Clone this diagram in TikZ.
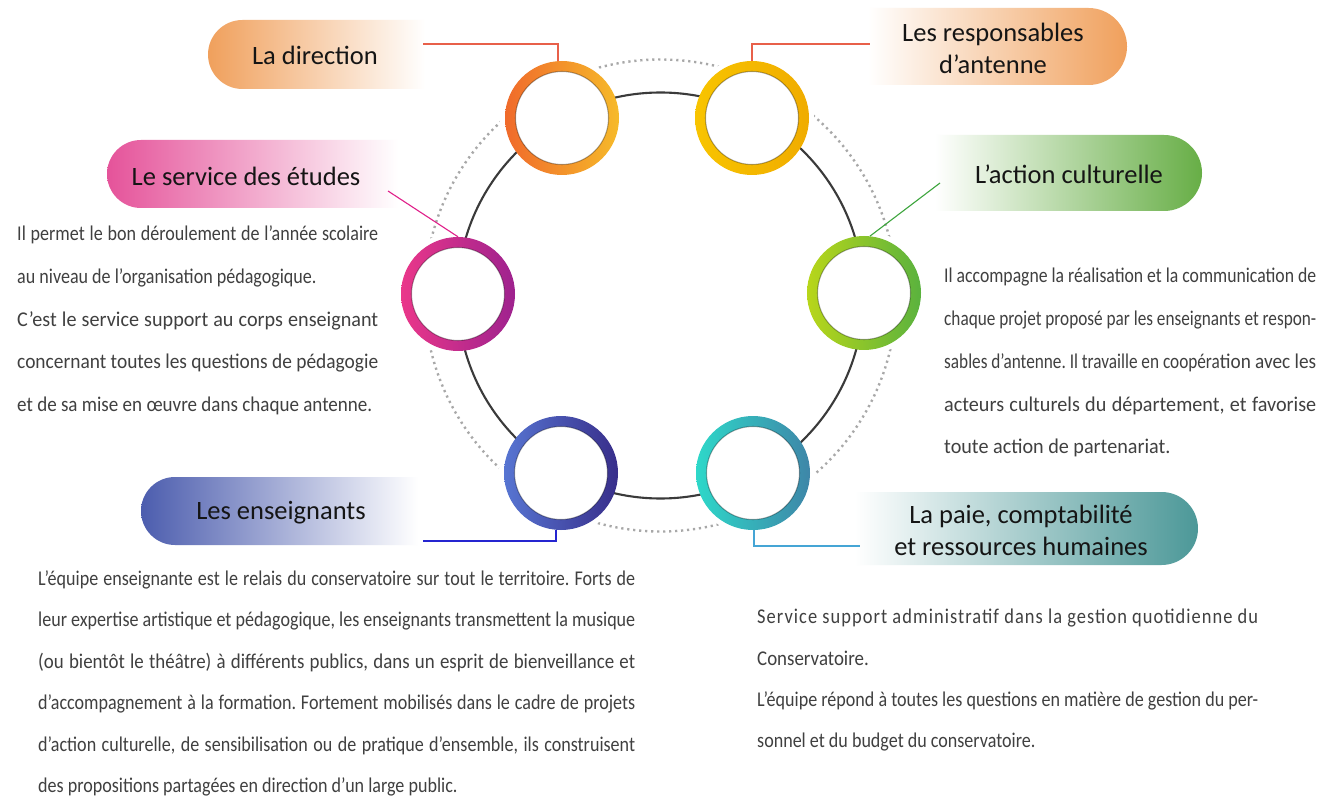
\documentclass[tikz,border=0pt]{standalone}
\usepackage{fontspec}
\usepackage{graphicx}
\setmainfont{Carlito}
\newfontfamily\headf{Carlito}
\newfontfamily\narrowf[FakeStretch=0.86]{Carlito}
\newfontfamily\midf[FakeStretch=0.9]{Carlito}
\newfontfamily\widef[FakeStretch=0.96]{Carlito}
\newfontfamily\spacedf[FakeStretch=0.88,LetterSpace=5]{Carlito}
\definecolor{headtxt}{HTML}{151515}
\definecolor{bodytxt}{HTML}{404040}
\definecolor{ringline}{HTML}{3A3A3A}
\definecolor{dotgray}{HTML}{A8A8A8}
\definecolor{pOrange}{HTML}{F0A05C}
\definecolor{pPink}{HTML}{E5539A}
\definecolor{pBlue}{HTML}{4C5DAE}
\definecolor{pGreen}{HTML}{67AE46}
\definecolor{pTeal}{HTML}{4C9898}
\definecolor{rOrA}{HTML}{F06A2B}
\definecolor{rOrB}{HTML}{F6BA2A}
\definecolor{rYeA}{HTML}{F8C400}
\definecolor{rYeB}{HTML}{F0AC00}
\definecolor{rPiA}{HTML}{EA378A}
\definecolor{rPiB}{HTML}{9E228E}
\definecolor{rGrA}{HTML}{B8D61A}
\definecolor{rGrB}{HTML}{5AB23E}
\definecolor{rBlA}{HTML}{5775D2}
\definecolor{rBlB}{HTML}{382E8A}
\definecolor{rTeA}{HTML}{2ED8C9}
\definecolor{rTeB}{HTML}{3E86A8}
\definecolor{cRed}{HTML}{E8604A}
\definecolor{cMag}{HTML}{E0208A}
\definecolor{cGreen}{HTML}{3DA53D}
\definecolor{cBlue}{HTML}{2525D0}
\definecolor{cCyan}{HTML}{45A5D5}
\newsavebox{\jlbox}
% justified line: stretch spaces if short, squeeze horizontally if too long
\newcommand{\jl}[2]{\sbox{\jlbox}{#2}\ifdim\wd\jlbox>#1\relax\resizebox{#1}{\height}{\usebox{\jlbox}}\else\makebox[#1][s]{#2}\fi}
% left-rounded pill: x1 x2 ytop ybot r color
\newcommand{\pillL}[6]{\shade[left color=#6, right color=white] (#1+#5,#3) -- (#2,#3) -- (#2,#4) -- (#1+#5,#4) arc[start angle=90,end angle=270,radius=#5] -- cycle;}
% right-rounded pill
\newcommand{\pillR}[6]{\shade[left color=white, right color=#6] (#1,#3) -- (#2-#5,#3) arc[start angle=270,end angle=450,radius=#5] -- (#1,#4) -- cycle;}
% ring: node name, left color, right color
\newcommand{\ringdraw}[3]{%
  \fill[white] (#1.center) circle[radius=46.5];
  \shade[left color=#2, right color=#3, even odd rule] (#1.center) circle[radius=57] (#1.center) circle[radius=46.5];
  \draw[black, opacity=0.3, line width=1.1pt] (#1.center) circle[radius=46.5];
}
\frenchspacing
\begin{document}
\begin{tikzpicture}[x=1pt,y=-1pt,
  hd/.style={inner sep=0pt, text=headtxt, font=\headf\fontsize{26.5}{32}\selectfont, align=center},
  bodyn/.style={anchor=base west, inner sep=0pt, text=bodytxt, font=\narrowf\fontsize{21}{24}\selectfont\frenchspacing},
  bodym/.style={bodyn, font=\midf\fontsize{21}{24}\selectfont\frenchspacing},
  bodyw/.style={bodyn, font=\widef\fontsize{21}{24}\selectfont\frenchspacing},
  bodys/.style={bodyn, font=\spacedf\fontsize{21}{24}\selectfont\frenchspacing},
  ringpos/.style={circle, minimum size=114pt, inner sep=0pt},
  conn/.style={line width=1.1pt},
  dotc/.style={draw=dotgray, line width=2.4pt, dash pattern=on 2.2pt off 3.8pt},
]
\useasboundingbox (0,0) rectangle (1322,799);
\fill[white] (0,0) rectangle (1322,799);

% ring positions
\coordinate (O) at (660.5,295.5);
\node[ringpos] (dir)  at (562,118) {};
\node[ringpos] (resp) at (752,118) {};
\node[ringpos] (etu)  at (458,294) {};
\node[ringpos] (act)  at (864,293) {};
\node[ringpos] (ens)  at (561,473) {};
\node[ringpos] (paie) at (753,473) {};

% dotted outer circle and halos
\draw[dotc] (O) circle[radius=236];
\foreach \n in {dir,resp,etu,act,ens,paie} {\fill[white] (\n.center) circle[radius=62];}
% main circle
\draw[ringline, line width=2.1pt] (O) circle[radius=203];

% rings
\ringdraw{dir}{rOrA}{rOrB}
\ringdraw{resp}{rYeA}{rYeB}
\ringdraw{etu}{rPiA}{rPiB}
\ringdraw{act}{rGrA}{rGrB}
\ringdraw{ens}{rBlA}{rBlB}
\ringdraw{paie}{rTeA}{rTeB}

% pills
\pillL{208}{425}{20}{89}{34.5}{pOrange}
\pillR{868}{1127}{8}{85}{38.5}{pOrange}
\pillL{107}{398}{140}{208}{34}{pPink}
\pillR{935}{1202}{135}{211}{38}{pGreen}
\pillL{141}{418}{477}{545}{34}{pBlue}
\pillR{855}{1198}{492}{565}{36.5}{pTeal}

% headings
\node[hd] (dirlab)  at (315,55) {La direction};
\node[hd] (resplab) at (993,48) {Les responsables\\d’antenne};
\node[hd] (etulab)  at (246,176) {Le service des études};
\node[hd] (actlab)  at (1069,174) {L’action culturelle};
\node[hd] (enslab)  at (281,513) {Les enseignants};
\node[hd] (paielab) at (1021,530) {La paie, comptabilité\\et ressources humaines};

% connectors
\coordinate (c1) at (423,44);
\coordinate (c2) at (870,44);
\coordinate (c3) at (388,191);
\coordinate (c4) at (940,183);
\coordinate (c5) at (423,541);
\coordinate (c6) at (860,546);
\draw[conn, cRed] (c1) -| ([xshift=-4pt]dir.north);
\draw[conn, cRed] (resp.north) |- (c2);
\draw[conn, cMag] (c3) -- (etu.north);
\draw[conn, cGreen] (c4) -- (act.84);
\draw[conn, cBlue] (c5) -| ([xshift=-5pt]ens.south);
\draw[conn, cCyan] ([xshift=1pt]paie.south) |- (c6);

% left block
\node[bodyn] (t11) at (17,241) {\jl{361pt}{Il permet le bon déroulement de l’année scolaire}};
\node[bodyn] (t12) at (17,284) {au niveau de l’organisation pédagogique.};
\node[bodyw] (t13) at (17,327) {\jl{361pt}{C’est le service support au corps enseignant}};
\node[bodyw] (t14) at (17,369) {\jl{361pt}{concernant toutes les questions de pédagogie}};
\node[bodyw] (t15) at (17,411) {\jl{355pt}{et de sa mise en œuvre dans chaque antenne.}};

% right block
\node[bodyn] (t21) at (944,283) {\jl{372pt}{Il accompagne la réalisation et la communication de}};
\node[bodyn] (t22) at (944,326) {\jl{372pt}{chaque projet proposé par les enseignants et respon-}};
\node[bodyn] (t23) at (944,368) {\jl{372pt}{sables d’antenne. Il travaille en coopéra{\widef tion avec les}}};
\node[bodyw] (t24) at (944,411) {\jl{372pt}{acteurs culturels du département, et favorise}};
\node[bodyw] (t25) at (944,453) {toute action de partenariat.};

% bottom-left block
\node[bodyn] (t31) at (38,585) {\jl{597pt}{L’équipe enseignante est le relais du conservatoire sur tout le territoire. Forts de}};
\node[bodyn] (t32) at (38,626.5) {\jl{597pt}{leur expertise artistique et pédagogique, les enseignants transmettent la musique}};
\node[bodym] (t33) at (38,668) {\jl{597pt}{(ou bientôt le théâtre) à différents publics, dans un esprit de bienveillance et}};
\node[bodyn] (t34) at (38,709.5) {\jl{597pt}{d’accompagnement à la formation. Fortement mobilisés dans le cadre de projets}};
\node[bodyn] (t35) at (38,751) {\jl{597pt}{d’action culturelle, de sensibilisation ou de pratique d’ensemble, ils construisent}};
\node[bodyn] (t36) at (38,792.5) {des propositions partagées en direction d’un large public.};

% bottom-right block
\node[bodys] (t41) at (757,623) {\jl{501pt}{Service support administratif dans la gestion quotidienne du}};
\node[bodym] (t42) at (757,665) {Conservatoire.};
\node[bodyn] (t43) at (757,706) {\jl{501pt}{L’équipe répond à toutes les questions en matière de gestion du per-}};
\node[bodyn] (t44) at (757,747) {sonnel et du budget du conservatoire.};
\end{tikzpicture}
\end{document}
